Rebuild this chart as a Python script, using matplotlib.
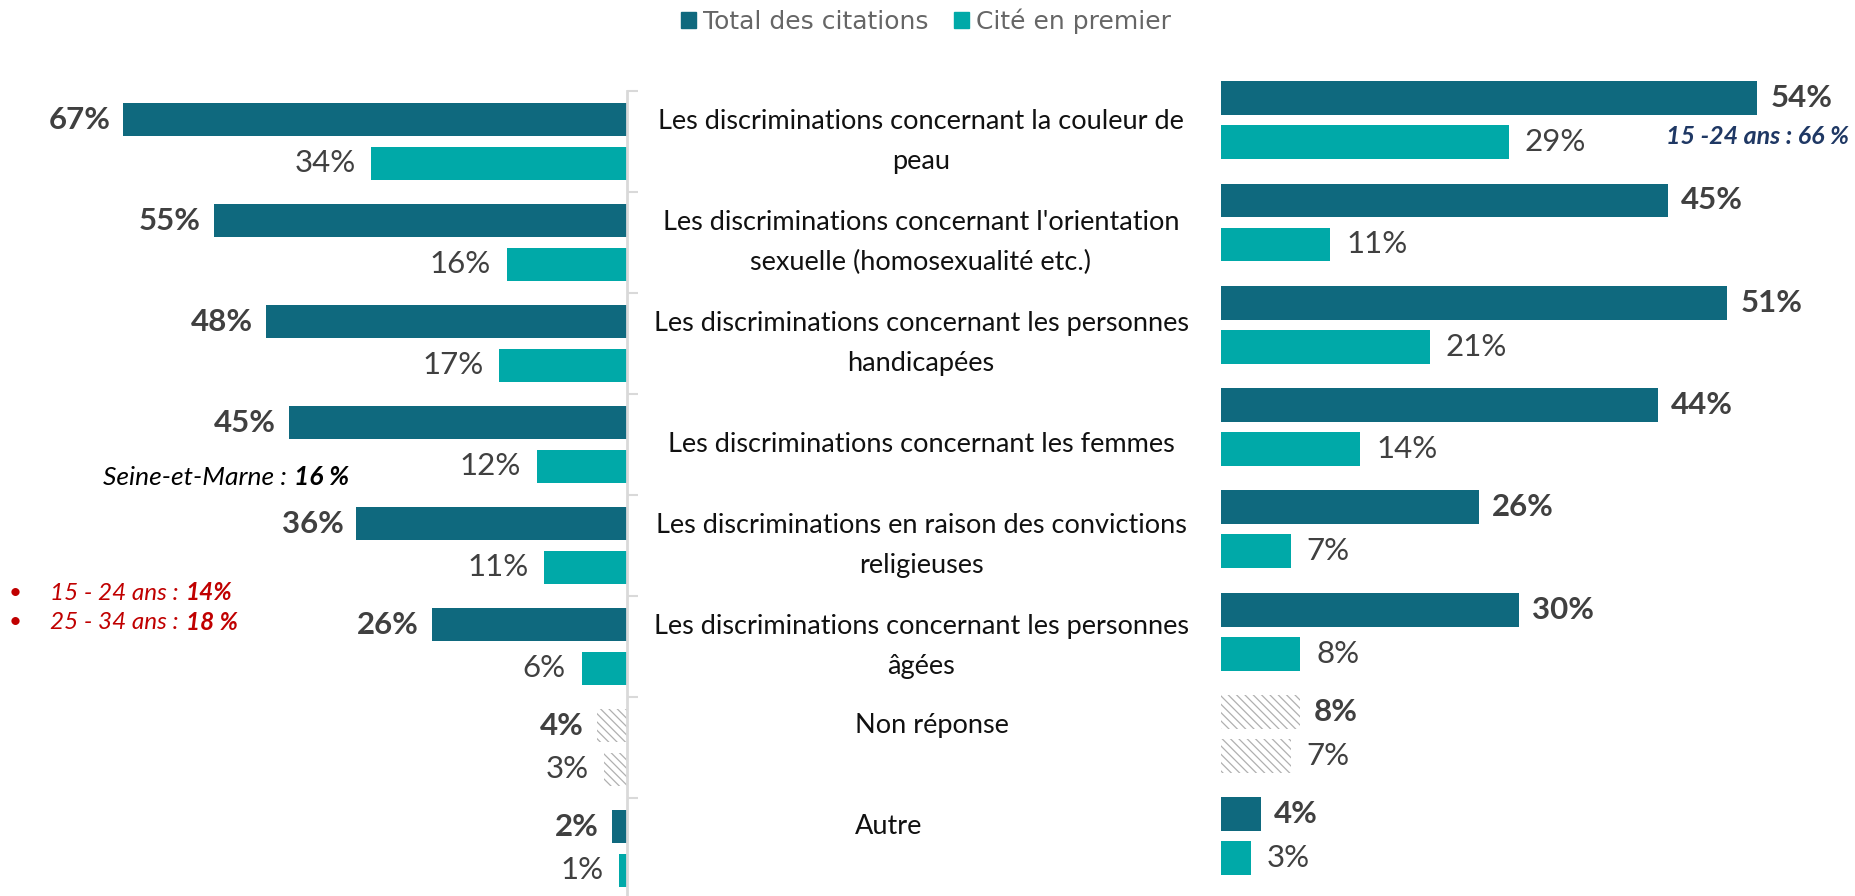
import matplotlib
matplotlib.use('Agg')
import matplotlib.pyplot as plt
from matplotlib.patches import Patch
from matplotlib.transforms import blended_transform_factory

# data
categories = [
    "Les discriminations concernant la couleur de\npeau",
    "Les discriminations concernant l'orientation\nsexuelle (homosexualité etc.)",
    "Les discriminations concernant les personnes\nhandicapées",
    "Les discriminations concernant les femmes",
    "Les discriminations en raison des convictions\nreligieuses",
    "Les discriminations concernant les personnes\nâgées",
    "Non réponse",
    "Autre",
]
total_left = [67, 55, 48, 45, 36, 26, 4, 2]
first_left = [34, 16, 17, 12, 11, 6, 3, 1]
total_right = [54, 45, 51, 44, 26, 30, 8, 4]
first_right = [29, 11, 21, 14, 7, 8, 7, 3]
legend_labels = ['Total des citations', 'Cité en premier']
no_answer = 'Non réponse'
side_labels = ['Non réponse', 'Autre']

W, H = 1855, 896
DARK = '#0F697E'
TEAL = '#00A9A8'
GREY_TXT = '#404040'
HATCH = '#B0B0B0'
SPINE = '#D9D9D9'

plt.rcParams['font.family'] = ['Lato', 'DejaVu Sans']
plt.rcParams['hatch.linewidth'] = 0.9
plt.rcParams['hatch.color'] = HATCH

fig = plt.figure(figsize=(W / 100, H / 100), dpi=100)


def px_box(x0, y0, x1, y1):
    return [x0 / W, 1 - y1 / H, (x1 - x0) / W, (y1 - y0) / H]


axL = fig.add_axes(px_box(0, 91, 627, 899))
axR = fig.add_axes(px_box(1221, 69, 1855, 887.4))

off = 0.215
h = 0.33


def draw_side(ax, tot, first, left):
    for i, cat in enumerate(categories):
        hatched = cat == no_answer
        for val, dy, col, bold, gap in ((tot[i], -off, DARK, True, 13),
                                         (first[i], off, TEAL, False, 16)):
            if hatched:
                ax.barh(i + dy, val, height=h, color='white', edgecolor=HATCH,
                        hatch='\\\\\\\\', linewidth=0)
            else:
                ax.barh(i + dy, val, height=h, color=col, linewidth=0)
            ax.annotate(f'{val}%', (val, i + dy),
                        xytext=(-gap if left else gap, 0), textcoords='offset pixels',
                        ha='right' if left else 'left', va='center', fontsize=22.5,
                        fontweight='bold' if bold else 'normal', color=GREY_TXT)
    ax.set_ylim(len(categories) - 0.5, -0.5)
    ax.set_xticks([])
    ax.set_yticks([])
    for s in ax.spines.values():
        s.set_visible(False)


draw_side(axL, total_left, first_left, True)
draw_side(axR, total_right, first_right, False)
axL.set_xlim(627 / 7.515, 0)
axR.set_xlim(0, 634 / 9.93)

# left axis line with ticks between groups
axL.spines['right'].set_visible(True)
axL.spines['right'].set_color(SPINE)
axL.spines['right'].set_linewidth(2)
axL.yaxis.set_ticks_position('right')
axL.set_yticks([i - 0.5 for i in range(len(categories) + 1)], minor=True)
axL.tick_params(axis='y', which='minor', direction='out', length=8, width=1.5,
                color=SPINE, labelright=False)

# category labels in the middle
tr = blended_transform_factory(fig.transFigure, axL.transData)
for i, cat in enumerate(categories):
    if cat in side_labels:
        axL.annotate(cat, (855 / W, i), xycoords=tr, xytext=(0, 22),
                     textcoords='offset pixels', ha='left', va='center',
                     fontsize=19.5, color='#111111', annotation_clip=False)
    else:
        axL.text(921 / W, i, cat, transform=tr, ha='center', va='center',
                 multialignment='center', fontsize=19.5, color='#111111',
                 linespacing=1.75, clip_on=False)

# legend
handles = [Patch(color=DARK), Patch(color=TEAL)]
fig.legend(handles, legend_labels, loc='center', bbox_to_anchor=(926 / W, 1 - 21 / H),
           ncol=2, frameon=False, handlelength=0.6, handleheight=0.6,
           handletextpad=0.3, columnspacing=1.0, labelcolor='#666666',
           prop={'family': 'DejaVu Sans', 'size': 18})

# annotations
renderer = fig.canvas.get_renderer()


def rich(x, y, parts, color, size=17.5, gap=7):
    for s, w in parts:
        t = fig.text(x / W, 1 - y / H, s, ha='left', va='center', fontsize=size,
                     style='italic', fontweight=w, color=color)
        x += t.get_window_extent(renderer=renderer).width + gap


rich(103, 477, [('Seine-et-Marne :', 'normal'), ('16 %', 'bold')], '#000000', size=19)
RED = '#C00000'
for y, parts in ((593, [('15 - 24 ans :', 'normal'), ('14%', 'bold')]),
                 (622, [('25 - 34 ans :', 'normal'), ('18 %', 'bold')])):
    fig.text(15 / W, 1 - y / H, '•', ha='center', va='center', fontsize=16, color=RED)
    rich(50, y, parts, RED)

fig.text(1849 / W, 1 - 137 / H, '15 -24 ans : 66 %', ha='right', va='center',
         fontsize=18, style='italic', fontweight='bold', color='#1F3864')

fig.savefig('out.png', dpi=100)
